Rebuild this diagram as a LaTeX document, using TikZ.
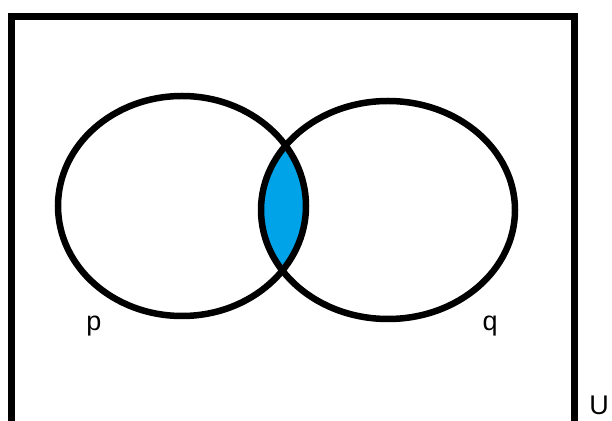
\documentclass[tikz,border=0pt]{standalone}
\usepackage{fontspec}
\setmainfont{Liberation Sans}
\definecolor{lensblue}{RGB}{0,162,232}
\begin{document}
\begin{tikzpicture}[x=1pt,y=1pt,
  outline/.style={draw=black,line width=6.5pt},
  setlabel/.style={font=\fontsize{27}{30}\selectfont,inner sep=0pt}]
\useasboundingbox (0,0) rectangle (612,420);
% universe rectangle (bottom edge beyond the picture)
\draw[outline,line width=7pt] (11.5,-30) -- (11.5,403.5) -- (574.5,403.5) -- (574.5,-30);
% intersection
\begin{scope}
  \clip (182,214) ellipse [x radius=124,y radius=110];
  \fill[lensblue] (388,210) ellipse [x radius=127,y radius=109];
\end{scope}
\draw[outline] (182,214) ellipse [x radius=124,y radius=110];
\draw[outline] (388,210) ellipse [x radius=127,y radius=109];
\node[setlabel] (p) at (94,94) {p};
\node[setlabel] (q) at (490,94) {q};
\node[setlabel,anchor=south east] (U) at (609,5) {U};
\end{tikzpicture}
\end{document}
